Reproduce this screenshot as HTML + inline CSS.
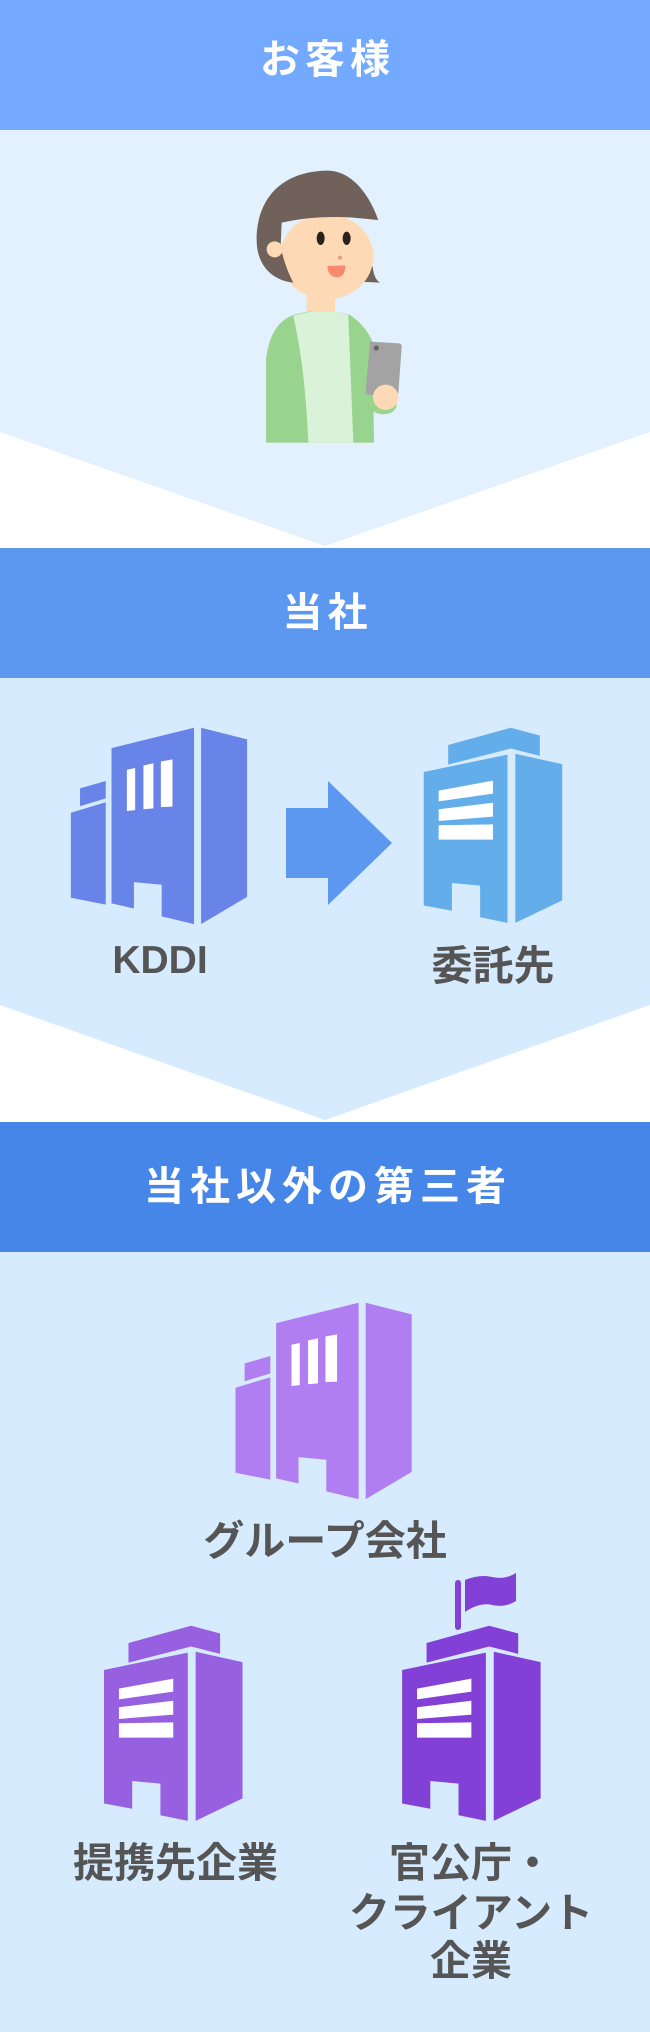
<!DOCTYPE html>
<html><head><meta charset="utf-8"><style>
html,body{margin:0;padding:0;}
body{width:650px;height:2032px;position:relative;overflow:hidden;background:#fff;font-family:"Liberation Sans","Noto Sans CJK JP",sans-serif;}
svg{position:absolute;left:0;top:0;}
.t{position:absolute;left:0;width:650px;text-align:center;font-weight:bold;white-space:nowrap;}
.h{color:#fff;font-size:40px;height:50px;line-height:50px;}
.l{color:#555;font-size:41px;height:50px;line-height:50px;}
</style></head><body>
<svg width="650" height="2032" viewBox="0 0 650 2032">
<polygon points="0,130 650,130 650,432 325,546 0,432" fill="#e3f1fe"/>
<rect x="0" y="0" width="650" height="130" fill="#73aaff"/>
<polygon points="0,678 650,678 650,1005 325,1120 0,1005" fill="#d6ebfd"/>
<rect x="0" y="548" width="650" height="130" fill="#5c97f0"/>
<rect x="0" y="1252" width="650" height="780" fill="#d6ebfd"/>
<rect x="0" y="1122" width="650" height="130" fill="#4686e8"/>

<g transform="translate(240,160) scale(0.3333)">
<path d="M355,365 Q380,335 388,310 L398,320 Q402,358 420,368Z" fill="#70625a"/>
<rect x="200" y="395" width="85" height="70" fill="#fddab5"/>
<ellipse cx="260" cy="290" rx="140" ry="128" fill="#fddab5"/>
<path d="M125,188 C180,175 250,168 330,172 L415,180 C390,110 340,32 260,32 C120,35 50,120 50,240 C50,310 90,360 160,368 C145,340 130,300 122,260Z" fill="#70625a"/>
<circle cx="104" cy="268" r="24" fill="#fddab5"/>
<ellipse cx="242" cy="235" rx="12" ry="20" fill="#2a201c"/>
<ellipse cx="320" cy="235" rx="12" ry="20" fill="#2a201c"/>
<circle cx="300" cy="293" r="6" fill="#e0a070"/>
<path d="M262,318 L316,316 Q316,352 290,352 Q264,350 262,318Z" fill="#f58a70"/>
<path d="M78,848 L78,600 Q90,490 160,465 Q240,440 330,465 Q375,495 398,545 L402,848Z" fill="#98d48e"/>
<path d="M160,468 Q240,440 325,465 L340,848 L205,848 Q195,620 160,468Z" fill="#daf3d8"/>
<ellipse cx="430" cy="735" rx="40" ry="28" fill="#98d48e"/>
<path d="M390,545 L478,550 Q486,552 485,562 L475,700 L385,705 Q376,705 377,695 Z" fill="#a3a3a3"/>
<circle cx="409" cy="564" r="8" fill="#666"/>
<circle cx="437" cy="712" r="38" fill="#fddab5"/>
</g>

<defs>
<g id="bA">
<polygon points="193,250 255,233 255,273 193,291" />
<polygon points="171,306 255,282 255,518 171,502" />
<path d="M269,157 L468,110 L468,563 L390,545 L390,472 L323,466 L323,527 L269,515Z" />
<polygon points="485,110 596,137 596,500 485,563" />
<polygon points="306,207 326,203 326,300 306,302" fill="#fff"/>
<polygon points="346,197 370,192 370,296 346,298" fill="#fff"/>
<polygon points="388,188 416,183 416,292 388,293" fill="#fff"/>
</g>
<g id="bB">
<polygon points="1081,150 1232,110 1302,128 1302,175 1232,158 1081,195" />
<path d="M1022,212 L1224,172 L1224,560 L1158,547 L1158,474 L1090,468 L1090,532 L1022,520Z" />
<polygon points="1243,170 1356,194 1356,508 1243,560" />
<polygon points="1058,255 1189,232 1189,262 1058,280" fill="#fff"/>
<polygon points="1058,298 1189,283 1189,315 1058,325" fill="#fff"/>
<polygon points="1058,335 1189,333 1189,368 1058,368" fill="#fff"/>
</g>
</defs>

<g transform="translate(0,680) scale(0.4146,0.4337)" fill="#6884e8"><use href="#bA"/></g>
<polygon points="286,808 328,808 328,781 392,843 328,905 328,878 286,878" fill="#5c97f0"/>
<g transform="translate(0,680) scale(0.4146,0.4337)" fill="#63aeea"><use href="#bB"/></g>
<g transform="translate(164.6,1255) scale(0.4146,0.4337)" fill="#b07ef0"><use href="#bA"/></g>
<g transform="translate(-319.7,1578) scale(0.4146,0.4337)" fill="#9660e0"><use href="#bB"/></g>
<g transform="translate(-21.6,1578) scale(0.4146,0.4337)" fill="#8340d6"><use href="#bB"/></g>
<rect x="455" y="1580" width="6" height="50" rx="3" fill="#8340d6"/>
<path d="M465,1580 Q480,1574 492,1577 Q505,1580 516,1573 L516,1601 Q505,1608 492,1605 Q480,1602 465,1612Z" fill="#8340d6"/>
</svg>

<div class="t h" style="top:35px;letter-spacing:5px;text-indent:5px;">お客様</div>
<div class="t h" style="top:588px;letter-spacing:5px;text-indent:5px;">当社</div>
<div class="t h" style="top:1162px;letter-spacing:6px;text-indent:6px;">当社以外の第三者</div>

<div class="t l" style="left:60px;width:200px;top:936px;font-size:39px;">KDDI</div>
<div class="t l" style="left:393px;width:200px;top:941px;">委託先</div>
<div class="t l" style="top:1516px;">グループ会社</div>
<div class="t l" style="left:73px;width:200px;top:1838px;">提携先企業</div>
<div class="t l" style="left:371px;width:200px;top:1838px;">官公庁・</div>
<div class="t l" style="left:321px;width:300px;top:1888px;">クライアント</div>
<div class="t l" style="left:371px;width:200px;top:1936px;">企業</div>
</body></html>
